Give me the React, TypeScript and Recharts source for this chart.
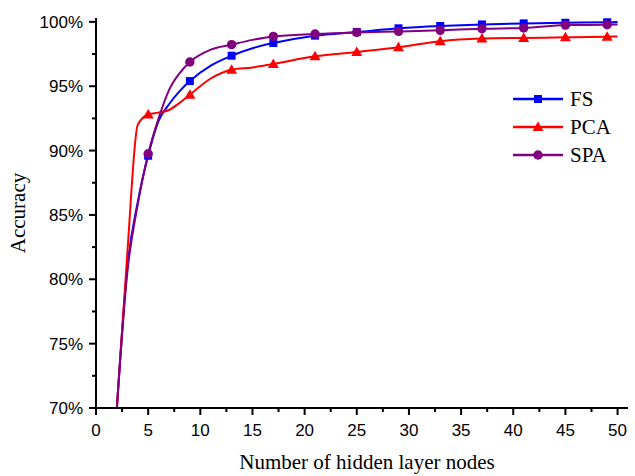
import { Legend, Line, LineChart, XAxis, YAxis } from "recharts";

// hidden layer node counts where accuracy was sampled
const NODES = [2, 3, 4, 5, 6, 7, 8, 9, 11, 13, 15, 17, 21, 25, 29, 33, 37, 41, 45, 49, 50];
const FS = [70, 80.9, 86.0, 89.6, 92.3, 93.6, 94.6, 95.4, 96.6, 97.37, 97.95, 98.36, 98.93, 99.21, 99.5, 99.68, 99.8, 99.88, 99.93, 99.97, 99.98];
const PCA = [70, 82.0, 92.0, 92.8, 92.95, 93.15, 93.7, 94.34, 95.6, 96.28, 96.45, 96.73, 97.32, 97.66, 98.02, 98.5, 98.7, 98.75, 98.8, 98.85, 98.87];
const SPA = [70, 80.5, 85.8, 89.75, 92.5, 94.7, 96.0, 96.88, 97.84, 98.23, 98.6, 98.87, 99.06, 99.18, 99.26, 99.34, 99.47, 99.52, 99.75, 99.78, 99.8];

// nodes that carry a symbol
const MARKER_NODES = [5, 9, 13, 17, 21, 25, 29, 33, 37, 41, 45, 49];

const X_TICKS = [0, 2.5, 5, 7.5, 10, 12.5, 15, 17.5, 20, 22.5, 25, 27.5, 30, 32.5, 35, 37.5, 40, 42.5, 45, 47.5, 50];
const Y_TICKS = [70, 72.5, 75, 77.5, 80, 82.5, 85, 87.5, 90, 92.5, 95, 97.5, 100];

type Shape = "square" | "triangle" | "circle";

const SERIES: { key: string; name: string; color: string; shape: Shape }[] = [
  { key: "fs", name: "FS", color: "#0000ff", shape: "square" },
  { key: "pca", name: "PCA", color: "#ff0000", shape: "triangle" },
  { key: "spa", name: "SPA", color: "#800080", shape: "circle" },
];

const data = NODES.map((x, i) => ({ x, fs: FS[i], pca: PCA[i], spa: SPA[i] }));

const SANS = "'Liberation Sans', Arial, sans-serif";
const SERIF = "'Liberation Serif', 'Times New Roman', serif";

function Marker({ shape, cx, cy, color }: { shape: Shape; cx: number; cy: number; color: string }) {
  if (shape === "square") {
    return <rect x={cx - 4} y={cy - 4} width={8} height={8} fill={color} />;
  }
  if (shape === "triangle") {
    return <polygon points={`${cx},${cy - 5.5} ${cx + 5.5},${cy + 4} ${cx - 5.5},${cy + 4}`} fill={color} />;
  }
  return <circle cx={cx} cy={cy} r={4.7} fill={color} />;
}

function makeDot(shape: Shape, color: string) {
  return (props: any) => {
    const { cx, cy, payload, index } = props;
    if (!MARKER_NODES.includes(payload.x)) return <g key={`d-${index}`} />;
    return (
      <g key={`d-${index}`}>
        <Marker shape={shape} cx={cx} cy={cy} color={color} />
      </g>
    );
  };
}

function XTick(props: any) {
  const { x, y, payload } = props;
  const major = payload.value % 5 === 0;
  return (
    <g>
      <line x1={x} x2={x} y1={y} y2={y + (major ? 7 : 4)} stroke="#000" strokeWidth={2} />
      {major && (
        <text x={x} y={y + 28} textAnchor="middle" fontSize={17} fontFamily={SANS} fill="#000">
          {payload.value}
        </text>
      )}
    </g>
  );
}

function YTick(props: any) {
  const { x, y, payload } = props;
  const major = payload.value % 5 === 0;
  return (
    <g>
      <line x1={x - (major ? 7 : 4)} x2={x} y1={y} y2={y} stroke="#000" strokeWidth={2} />
      {major && (
        <text x={x - 13} y={y} dy={6} textAnchor="end" fontSize={17} fontFamily={SANS} fill="#000">
          {`${payload.value}%`}
        </text>
      )}
    </g>
  );
}

function XTitle(props: any) {
  const { viewBox } = props;
  return (
    <text
      x={viewBox.x + viewBox.width / 2 + 5}
      y={viewBox.y + viewBox.height - 7}
      textAnchor="middle"
      fontSize={21}
      fontFamily={SERIF}
      fill="#000"
    >
      Number of hidden layer nodes
    </text>
  );
}

function YTitle(props: any) {
  const { viewBox } = props;
  const cx = viewBox.x + 18;
  const cy = viewBox.y + viewBox.height / 2;
  return (
    <text
      x={cx}
      y={cy}
      transform={`rotate(-90 ${cx} ${cy})`}
      textAnchor="middle"
      dominantBaseline="central"
      fontSize={21}
      fontFamily={SERIF}
      fill="#000"
    >
      Accuracy
    </text>
  );
}

function LegendBox() {
  return (
    <svg width={120} height={90}>
      {SERIES.map((s, i) => {
        const cy = 14 + i * 28;
        return (
          <g key={s.key}>
            <line x1={5} x2={55} y1={cy} y2={cy} stroke={s.color} strokeWidth={2.5} />
            <Marker shape={s.shape} cx={30} cy={cy} color={s.color} />
            <text x={62} y={cy} dy={7} fontSize={21} fontFamily={SERIF} fill="#000">
              {s.name}
            </text>
          </g>
        );
      })}
    </svg>
  );
}

export default function App() {
  return (
    <div style={{ width: 635, height: 476 }}>
      <style>{"body{margin:0}"}</style>
      <LineChart width={635} height={476} data={data} margin={{ top: 18, right: 7, left: 0, bottom: 0 }}>
        <XAxis
          type="number"
          dataKey="x"
          domain={[0, 51]}
          ticks={X_TICKS}
          interval={0}
          height={68}
          tickLine={false}
          tickSize={0}
          tickMargin={0}
          tick={<XTick />}
          axisLine={{ stroke: "#000", strokeWidth: 2 }}
          label={<XTitle />}
        />
        <YAxis
          type="number"
          domain={[70, 100.3]}
          ticks={Y_TICKS}
          interval={0}
          width={96}
          tickLine={false}
          tickSize={0}
          tickMargin={0}
          tick={<YTick />}
          axisLine={{ stroke: "#000", strokeWidth: 2 }}
          label={<YTitle />}
        />
        <Legend
          layout="horizontal"
          verticalAlign="middle"
          align="center"
          content={<LegendBox />}
          wrapperStyle={{ left: 508, top: 85, width: 120, height: 90 }}
        />
        {SERIES.map((s) => (
          <Line
            key={s.key}
            type="monotone"
            dataKey={s.key}
            name={s.name}
            stroke={s.color}
            strokeWidth={2}
            dot={makeDot(s.shape, s.color)}
            activeDot={false}
            isAnimationActive={false}
          />
        ))}
      </LineChart>
    </div>
  );
}
